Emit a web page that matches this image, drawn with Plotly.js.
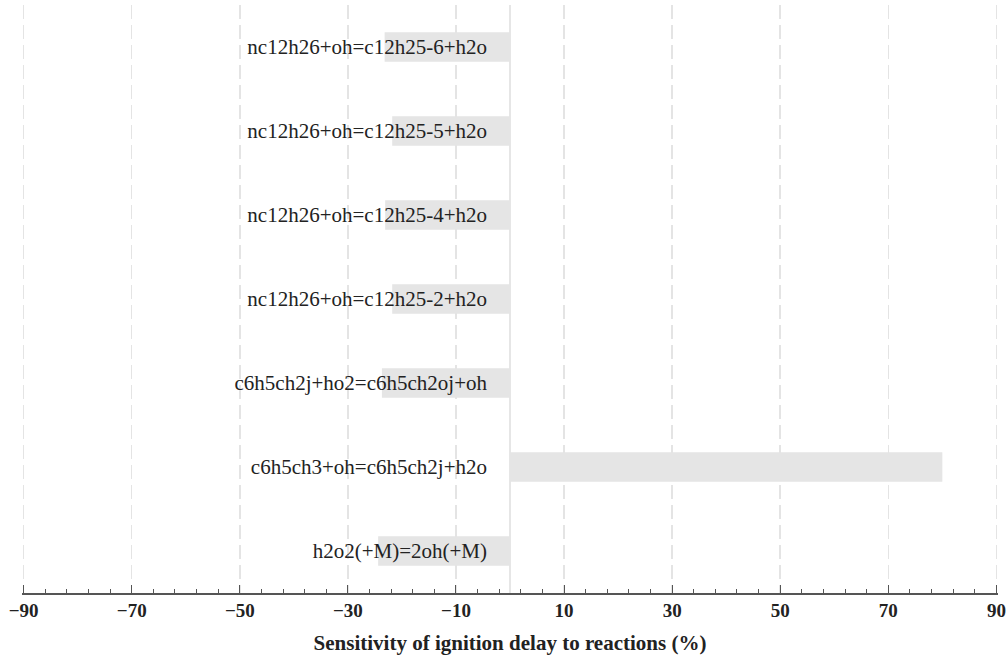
<!DOCTYPE html>
<html>
<head>
<meta charset="utf-8">
<script src="https://cdn.plot.ly/plotly-3.0.1.min.js"></script>
<style>html,body{margin:0;padding:0;background:#fff;}#chart{width:1008px;height:660px;}</style>
</head>
<body>
<div id="chart"></div>
<script>
const reactions = [
  "nc12h26+oh=c12h25-6+h2o",
  "nc12h26+oh=c12h25-5+h2o",
  "nc12h26+oh=c12h25-4+h2o",
  "nc12h26+oh=c12h25-2+h2o",
  "c6h5ch2j+ho2=c6h5ch2oj+oh",
  "c6h5ch3+oh=c6h5ch2j+h2o",
  "h2o2(+M)=2oh(+M)"
];
const sensitivity = [-23.2, -21.8, -23.1, -21.8, -23.7, 80.0, -24.4];
const xTitle = "Sensitivity of ignition delay to reactions (%)";

const trace = {
  type: 'bar',
  orientation: 'h',
  x: sensitivity,
  y: reactions,
  marker: {color: '#e5e5e5', line: {width: 0}},
  hoverinfo: 'skip'
};

const layout = {
  width: 1008, height: 660,
  margin: {l: 22, r: 10, t: 5, b: 67},
  paper_bgcolor: '#ffffff',
  plot_bgcolor: '#ffffff',
  showlegend: false,
  bargap: 0.65,
  font: {family: 'Liberation Serif', color: '#222'},
  xaxis: {
    range: [-90.3, 90.3],
    tickmode: 'linear', tick0: -90, dtick: 20,
    ticks: 'inside', ticklen: 8, tickwidth: 1, tickcolor: '#555',
    minor: {tick0: -90, dtick: 4, ticks: 'inside', ticklen: 4, tickwidth: 1, tickcolor: '#555', showgrid: false},
    showgrid: true, gridcolor: '#e4e4e4', gridwidth: 1.5, griddash: '14px,6px',
    zeroline: true, zerolinecolor: '#e6e6e6', zerolinewidth: 2,
    showline: true, linecolor: '#555', linewidth: 1.5,
    tickfont: {family: 'Liberation Serif', size: 19, color: '#222', weight: 'bold'},
    title: {text: xTitle, font: {family: 'Liberation Serif', size: 21, color: '#222', weight: 'bold'}, standoff: 15},
    automargin: false,
    fixedrange: true
  },
  yaxis: {
    type: 'category',
    autorange: 'reversed',
    anchor: 'free', position: 0.5,
    showline: false, showgrid: false, zeroline: false,
    ticks: '', ticklabelstandoff: 23,
    tickfont: {family: 'Liberation Serif', size: 21, color: '#222'},
    automargin: false,
    fixedrange: true
  }
};

Plotly.newPlot('chart', [trace], layout, {displayModeBar: false, staticPlot: true});
</script>
</body>
</html>
